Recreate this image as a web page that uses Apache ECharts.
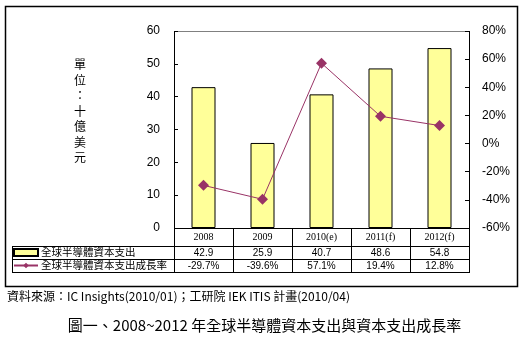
<!DOCTYPE html>
<html><head><meta charset="utf-8">
<script src="https://cdn.jsdelivr.net/npm/echarts@6/dist/echarts.min.js"></script>
<style>html,body{margin:0;padding:0;background:#fff}#c{width:529px;height:350px}</style>
</head><body><div id="c"></div>
<script>
var categories = ['2008', '2009', '2010(e)', '2011(f)', '2012(f)'];
var capex = [42.9, 25.9, 40.7, 48.6, 54.8];
var growth = [-29.7, -39.6, 57.1, 19.4, 12.8];
var barName = '全球半導體資本支出';
var lineName = '全球半導體資本支出成長率';
var unitLabel = '單位：十億美元';
var sourceText = '資料來源：IC Insights(2010/01)；工研院 IEK ITIS 計畫(2010/04)';
var titleText = '圖一、2008~2012 年全球半導體資本支出與資本支出成長率';

var F = '"Noto Sans CJK TC", "Liberation Sans", sans-serif';
var GL = 174, GR = 469, GT = 31, GB = 228;
var R1 = 246, R2 = 259, R3 = 272, TL = 12;

var chart = echarts.init(document.getElementById('c'), null, {renderer: 'canvas'});
var colW = (GR - GL) / categories.length;
var lines = [];
function ln(x1, y1, x2, y2, c) {
  lines.push({type: 'line', shape: {x1: x1, y1: y1, x2: x2, y2: y2}, style: {stroke: c || '#000', lineWidth: 1}, silent: true});
}
lines.push({type: 'rect', shape: {x: 5.5, y: 6.5, width: 512, height: 280}, style: {fill: 'none', stroke: '#000', lineWidth: 1.5}, silent: true});
ln(GL, GT + 0.5, GR, GT + 0.5, '#808080');
ln(GL + 0.5, GT, GL + 0.5, R3);
ln(GR + 0.5, GT, GR + 0.5, R3);
ln(GL, GB + 0.5, GR, GB + 0.5);
ln(TL, R1 + 0.5, GR, R1 + 0.5);
ln(TL, R2 + 0.5, GR, R2 + 0.5);
ln(TL, R3 + 0.5, GR + 1, R3 + 0.5);
ln(TL + 0.5, R1, TL + 0.5, R3);
for (var i = 1; i < categories.length; i++) {
  var x = Math.round(GL + colW * i) + 0.5;
  ln(x, GB, x, R3);
}
lines.push({type: 'text', left: 74, top: 57, style: {text: unitLabel.split('').join('\n'), font: '12px ' + F, fill: '#000', lineHeight: 15.5, align: 'center'}});
lines.push({type: 'text', left: 7, top: 290, style: {text: sourceText, font: '12px ' + F, fill: '#000'}});
lines.push({type: 'text', left: 'center', top: 318, style: {text: titleText, font: '15px ' + F, fill: '#000'}});

chart.setOption({
  animation: false,
  textStyle: {fontFamily: F},
  grid: {left: GL, right: 529 - GR, top: GT, bottom: 350 - GB},
  legend: {
    orient: 'vertical', left: 13, top: 246, padding: 0, itemGap: 0, itemWidth: 24, itemHeight: 7,
    textStyle: {fontSize: 10.5, color: '#000', padding: [0, 0, 0, -2], lineHeight: 13},
    data: [{name: barName, icon: 'rect'}, {name: lineName}]
  },
  xAxis: [
    {type: 'category', data: categories, position: 'bottom',
     axisLine: {show: false}, axisTick: {show: false},
     axisLabel: {color: '#000', fontSize: 10, margin: 4, fontFamily: '"Liberation Serif", serif'}},
    {type: 'category', data: capex.map(function (v) { return v.toFixed(1); }), position: 'bottom', offset: 17,
     axisLine: {show: false}, axisTick: {show: false},
     axisLabel: {color: '#000', fontSize: 10, margin: 3, fontFamily: '"Liberation Sans", sans-serif'}},
    {type: 'category', data: growth.map(function (v) { return v.toFixed(1) + '%'; }), position: 'bottom', offset: 30,
     axisLine: {show: false}, axisTick: {show: false},
     axisLabel: {color: '#000', fontSize: 10, margin: 3, fontFamily: '"Liberation Sans", sans-serif'}}
  ],
  yAxis: [
    {type: 'value', min: 0, max: 60, interval: 10, position: 'left',
     axisLine: {show: false}, axisTick: {show: true, inside: true, length: 4, lineStyle: {color: '#000'}},
     splitLine: {show: false},
     axisLabel: {color: '#000', fontSize: 12, margin: 14, fontFamily: '"Liberation Sans", sans-serif'}},
    {type: 'value', min: -60, max: 80, interval: 20, position: 'right',
     axisLine: {show: false}, axisTick: {show: true, inside: true, length: 4, lineStyle: {color: '#000'}},
     splitLine: {show: false},
     axisLabel: {color: '#000', fontSize: 12, margin: 13, formatter: '{value}%', fontFamily: '"Liberation Sans", sans-serif'}}
  ],
  series: [
    {name: barName, type: 'bar', data: capex, xAxisIndex: 0, yAxisIndex: 0, barWidth: 24,
     itemStyle: {color: '#FFFF99', borderColor: '#000', borderWidth: 1}},
    {name: lineName, type: 'line', data: growth, xAxisIndex: 0, yAxisIndex: 1,
     symbol: 'diamond', symbolSize: 11, lineStyle: {color: '#993366', width: 1},
     itemStyle: {color: '#993366'}, z: 5}
  ],
  graphic: lines
});
</script></body></html>
